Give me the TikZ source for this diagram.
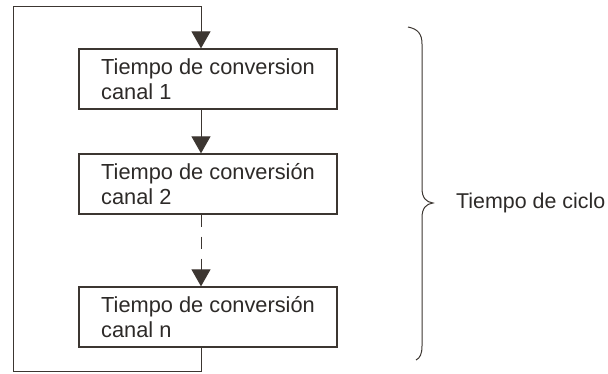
\documentclass[tikz,border=0pt]{standalone}
\usepackage{fontspec}
\setmainfont{Liberation Sans}
\usetikzlibrary{arrows.meta}
\definecolor{ink}{RGB}{60,54,49}
\definecolor{txt}{RGB}{45,42,40}
\begin{document}
\begin{tikzpicture}[x=1pt,y=-1pt,
  flowbox/.style={draw=ink,line width=1.3pt,minimum width=258pt,minimum height=60pt,
    inner xsep=0pt,align=left,text=txt,
    font=\fontsize{21.8}{25}\selectfont},
  wire/.style={draw=ink,line width=1pt},
  tip/.style={-{Triangle[width=19pt,length=17pt]}},
  lbl/.style={text=txt,font=\fontsize{21.4}{25}\selectfont,inner sep=0pt}]
\useasboundingbox (0,0) rectangle (608,374);
\node[flowbox] (b1) at (208,79) {Tiempo de conversion\\canal 1};
\node[flowbox] (b2) at (208,184) {Tiempo de conversión\\canal 2};
\node[flowbox] (bn) at (208,317) {Tiempo de conversión\\canal n};
\coordinate (tl) at (13,7);
\coordinate (tr) at (201,7);
\coordinate (bl) at (13,371);
\coordinate (br) at (201,371);
\draw[wire,tip] (bn.south -| br) -- (br) -- (bl) -- (tl) -- (tr) -- (b1.north -| tr);
\draw[wire,tip] (b1.south -| tr) -- (b2.north -| tr);
\draw[wire,tip,dash pattern=on 12pt off 10pt] (b2.south -| tr) -- (bn.north -| tr);
\coordinate (bt) at (408,27);
\coordinate (bm) at (433,203);
\coordinate (bb) at (416,360);
\draw[wire] (bt) .. controls (418,29) and (422,34) .. (422,44)
  -- (422,188) .. controls (422,198) and (426,202) .. (bm)
  .. controls (426,204) and (422,208) .. (422,218)
  -- (422,346) .. controls (422,354) and (420,358) .. (bb);
\node[lbl,anchor=west] (cyc) at (456,203) {Tiempo de ciclo};
\end{tikzpicture}
\end{document}
